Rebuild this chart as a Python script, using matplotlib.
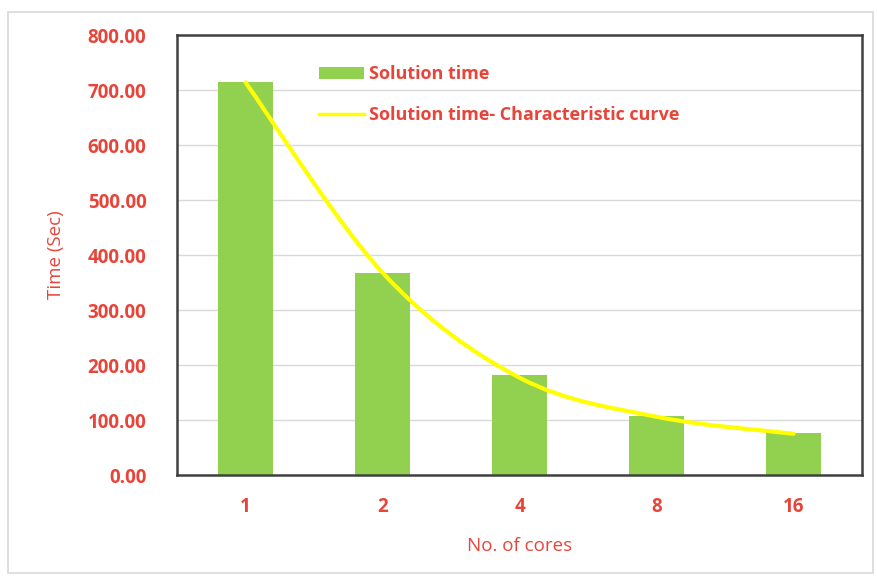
import matplotlib.pyplot as plt
from matplotlib.path import Path
from matplotlib.patches import PathPatch, Rectangle
from matplotlib.lines import Line2D
import numpy as np

cores = ['1', '2', '4', '8', '16']
solution_time = [714, 367, 181, 108, 76]
curve_time = [714, 368, 177, 106, 75]

red = '#e8453a'
green = '#92d050'
yellow = '#ffff00'

plt.rcParams['font.family'] = ['Open Sans', 'DejaVu Sans']

fig = plt.figure(figsize=(8.78, 5.76), dpi=100)
ax = fig.add_axes([0.2016, 0.1753, 0.7802, 0.7639])

# light frame round the whole chart
fig.patches.append(Rectangle((0.009, 0.005), 0.985, 0.975, transform=fig.transFigure,
                             fill=False, edgecolor='#d9d9d9', linewidth=1.2))

x = np.arange(len(cores))
bars = ax.bar(x, solution_time, width=0.4, color=green, zorder=2)

# smoothed line (Catmull-Rom style bezier through the points)
pts = list(zip(x, curve_time))
verts = [pts[0]]
codes = [Path.MOVETO]
for i in range(len(pts) - 1):
    p0 = pts[i - 1] if i > 0 else pts[i]
    p1 = pts[i]
    p2 = pts[i + 1]
    p3 = pts[i + 2] if i + 2 < len(pts) else pts[i + 1]
    c1 = (p1[0] + (p2[0] - p0[0]) / 6, p1[1] + (p2[1] - p0[1]) / 6)
    c2 = (p2[0] - (p3[0] - p1[0]) / 6, p2[1] - (p3[1] - p1[1]) / 6)
    verts += [c1, c2, p2]
    codes += [Path.CURVE4] * 3
ax.add_patch(PathPatch(Path(verts, codes), facecolor='none', edgecolor=yellow,
                       linewidth=3, zorder=3, capstyle='round'))
curve_handle = Line2D([], [], color=yellow, linewidth=2.5)

ax.set_xlim(-0.5, 4.5)
ax.set_ylim(0, 800)
ax.set_yticks(np.arange(0, 801, 100))
ax.set_yticklabels([f'{v:.2f}' for v in np.arange(0, 801, 100)])
ax.set_xticks(x)
ax.set_xticklabels(cores)
ax.tick_params(length=0, colors=red, labelsize=13.5)
ax.tick_params(axis='x', pad=16)
ax.tick_params(axis='y', pad=22)
for lab in ax.get_xticklabels() + ax.get_yticklabels():
    lab.set_fontweight('bold')

ax.grid(axis='y', color='#d9d9d9', linewidth=1, zorder=0)
for s in ax.spines.values():
    s.set_color('#404040')
    s.set_linewidth(1.8)

ax.set_xlabel('No. of cores', color=red, fontsize=13.5, labelpad=14)
ax.set_ylabel('Time (Sec)', color=red, fontsize=13.5, labelpad=16)

ax.legend([bars, curve_handle], ['Solution time', 'Solution time- Characteristic curve'],
          loc='upper left', bbox_to_anchor=(0.183, 0.968), frameon=False,
          labelcolor=red, handlelength=2.5, handletextpad=0.3,
          labelspacing=1.25, prop={'weight': 'bold', 'size': 13})

fig.savefig('out.png', dpi=100)
